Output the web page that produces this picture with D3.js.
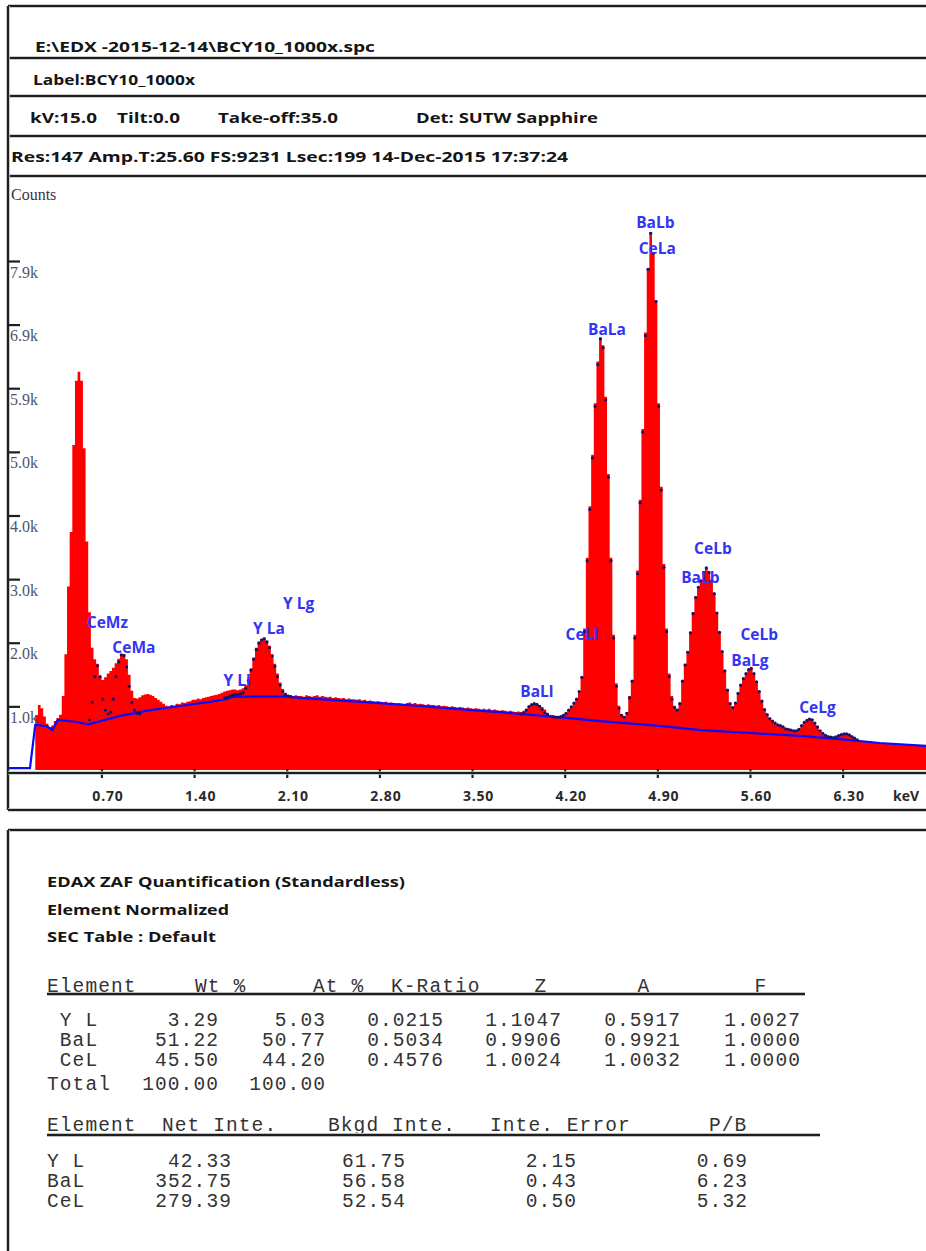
<!DOCTYPE html>
<html>
<head>
<meta charset="utf-8">
<script src="https://cdn.jsdelivr.net/npm/d3@7"></script>
<style>
  html, body { margin: 0; padding: 0; background: #fff; }
  svg { display: block; }
</style>
</head>
<body>
<svg id="page" width="926" height="1251"></svg>
<script>
// ---------------- EDX spectrum (counts per 0.02 keV channel, first channel at 0 keV) ----------------
const channelWidth = 0.02;
const counts = [
  0, 0, 0, 0, 0, 0, 0, 0, 0, 0,
  850, 1010, 960, 830, 720, 670, 690, 760, 810, 860,
  1150, 1800, 2850, 3700, 5050, 6050, 6190, 6050, 5000, 3550,
  2450, 1900, 1720, 1650, 1450, 1400, 1440, 1500, 1540, 1590,
  1660, 1730, 1780, 1800, 1720, 1480, 1230, 1120, 1110, 1130,
  1160, 1175, 1180, 1170, 1150, 1120, 1090, 1060, 1030, 1000,
  990, 1010, 1000, 1030, 1020, 1050, 1040, 1060, 1070, 1090,
  1090, 1110, 1100, 1120, 1130, 1140, 1150, 1160, 1170, 1180,
  1200, 1220, 1230, 1240, 1250, 1250, 1240, 1250, 1270, 1320,
  1420, 1580, 1750, 1900, 2000, 2040, 2060, 2010, 1930, 1800,
  1650, 1500, 1360, 1260, 1200, 1170, 1160, 1150, 1160, 1150,
  1150, 1140, 1160, 1150, 1140, 1150, 1160, 1140, 1150, 1140,
  1130, 1140, 1120, 1130, 1120, 1110, 1120, 1100, 1110, 1100,
  1100, 1090, 1100, 1080, 1090, 1070, 1080, 1070, 1060, 1070,
  1060, 1050, 1060, 1040, 1050, 1040, 1030, 1040, 1030, 1020,
  1040, 1050, 1030, 1040, 1020, 1030, 1020, 1010, 1020, 1010,
  1010, 1000, 1010, 990, 1000, 990, 980, 990, 980, 970,
  980, 970, 960, 970, 960, 950, 960, 950, 940, 950,
  940, 950, 930, 940, 930, 920, 930, 920, 910, 920,
  910, 900, 910, 900, 920, 950, 990, 1010, 1030, 1030,
  1010, 980, 940, 890, 860, 840, 830, 825, 830, 850,
  880, 930, 980, 1040, 1100, 1220, 1450, 2200, 3300, 4100,
  4900, 5700, 6350, 6720, 6600, 5800, 4600, 3300, 2100, 1350,
  1000, 870, 830, 900, 1150, 1400, 2100, 3100, 4200, 5300,
  6800, 7800, 8360, 8050, 7300, 5700, 4400, 3200, 2200, 1500,
  1150, 1000, 950, 1050, 1400, 1650, 1850, 2150, 2450, 2700,
  2850, 2950, 3080, 3150, 3080, 2950, 2750, 2450, 2150, 1850,
  1550, 1250, 1050, 980, 1050, 1200, 1330, 1430, 1500, 1560,
  1580, 1500, 1380, 1230, 1080, 950, 870, 810, 770, 740,
  710, 700, 680, 650, 640, 630, 620, 620, 640, 700,
  740, 770, 790, 790, 740, 680, 620, 575, 545, 525,
  515, 510, 520, 540, 555, 565, 565, 555, 530, 505,
  470, 460, 450, 445, 440, 445, 430, 435, 425, 420,
  420, 415, 410, 415, 405, 400, 405, 395, 400, 390,
  390, 395, 385, 390, 380, 385, 380
];

// Fitted background (keV, counts)
const backgroundEnergy = [0.00, 0.16, 0.20, 0.29, 0.33, 0.37, 0.50, 0.60, 0.84, 1.07, 1.29, 1.52, 1.64, 1.69, 1.80, 2.10,
  2.20, 2.43, 2.80, 3.11, 3.49, 3.71, 3.86, 4.13, 4.47, 4.92, 5.23, 5.60, 5.98, 6.28, 6.58, 6.93];
const backgroundCounts = [30, 30, 700, 680, 620, 780, 750, 710, 840, 930, 995, 1060, 1100, 1135, 1140, 1140,
  1120, 1090, 1040, 995, 930, 900, 870, 825, 760, 685, 620, 575, 530, 480, 420, 375];

// Peak fits (counts per channel, starting energy in keV)
const fitCeMStart = 0.60;
const fitCeM = [780, 1050, 1450, 1620, 1450, 1100, 930, 870, 900, 1100,
  1450, 1680, 1790, 1780, 1600, 1300, 1050, 930, 880, 870];
const fitYLStart = 1.62;
const fitYL = [1120, 1130, 1150, 1160, 1170, 1170, 1180, 1200, 1270, 1390,
  1550, 1720, 1870, 1970, 2020, 2040, 1990, 1900, 1770, 1610,
  1450, 1320, 1220, 1170, 1150, 1140];
const fitBaLlStart = 3.86;
const fitBaLl = [870, 885, 930, 985, 1015, 1030, 1020, 990, 940, 890, 860];
const fitLStart = 4.10;
const fitL = [
  830, 820, 820, 830, 850, 880, 930, 980, 1040, 1100,
  1220, 1440, 2150, 3250, 4050, 4850, 5650, 6300, 6700, 6560,
  5750, 4550, 3250, 2050, 1300, 960, 850, 820, 880, 1120,
  1380, 2050, 3050, 4150, 5250, 6750, 7780, 8340, 8030, 7280,
  5650, 4350, 3150, 2150, 1450, 1100, 970, 930, 1030, 1380,
  1630, 1830, 2130, 2430, 2680, 2840, 2940, 3070, 3140, 3070,
  2940, 2740, 2440, 2140, 1840, 1540, 1240, 1030, 970, 1040,
  1190, 1320, 1420, 1500, 1560, 1580, 1500, 1370, 1220, 1070,
  940, 860, 800, 760, 730, 700, 690, 670, 640, 630,
  620, 610, 610, 630, 690, 740, 770, 790, 780, 730,
  670, 610, 570, 540, 520, 510, 505, 515, 535, 550,
  560, 560, 545, 520, 495, 470
];

// Peak identification labels: text, label position (keV, counts)
const peakLabelText   = ["CeMz", "CeMa", "Y Ll", "Y La", "Y Lg", "BaLl", "CeLl", "BaLa", "BaLb", "CeLa", "CeLb", "BaLb", "CeLb", "BaLg", "CeLg"];
const peakLabelEnergy = [0.745, 0.945, 1.725, 1.965, 2.190, 3.990, 4.330, 4.520, 4.885, 4.900, 5.320, 5.225, 5.670, 5.600, 6.110];
const peakLabelCounts = [2300, 1910, 1400, 2200, 2590, 1230, 2110, 6860, 8520, 8110, 3450, 3000, 2110, 1710, 980];

// Axes
const fullScale = 9231;
const xTickValues = [0.70, 1.40, 2.10, 2.80, 3.50, 4.20, 4.90, 5.60, 6.30];
const yTickValues = [989, 1978, 2966, 3955, 4944, 5933, 6922, 7910];
const yTickLabels = ["1.0k", "2.0k", "3.0k", "4.0k", "5.0k", "5.9k", "6.9k", "7.9k"];

// Header block
const headerRow1 = ["E:\\EDX -2015-12-14\\BCY10_1000x.spc"];
const headerRow2 = ["Label:BCY10_1000x"];
const headerRow3 = ["kV:15.0", "Tilt:0.0", "Take-off:35.0", "Det: SUTW Sapphire"];
const headerRow4 = ["Res:147 Amp.T:25.60 FS:9231 Lsec:199 14-Dec-2015 17:37:24"];

// Quantification results
const quantTitle = ["EDAX ZAF Quantification (Standardless)", "Element Normalized", "SEC Table : Default"];
const quantHeader = ["Element", "Wt %", "At %", "K-Ratio", "Z", "A", "F"];
const quantRows = [
  [" Y L", "3.29", "5.03", "0.0215", "1.1047", "0.5917", "1.0027"],
  [" BaL", "51.22", "50.77", "0.5034", "0.9906", "0.9921", "1.0000"],
  [" CeL", "45.50", "44.20", "0.4576", "1.0024", "1.0032", "1.0000"],
  ["Total", "100.00", "100.00"]
];
const intensityHeader = ["Element", "Net Inte.", "Bkgd Inte.", "Inte. Error", "P/B"];
const intensityRows = [
  ["Y L", "42.33", "61.75", "2.15", "0.69"],
  ["BaL", "352.75", "56.58", "0.43", "6.23"],
  ["CeL", "279.39", "52.54", "0.50", "5.32"]
];

// ---------------- drawing ----------------
const svg = d3.select("#page");
const ink = "#1e1e1e";
const sans = "'Open Sans', 'Liberation Sans', sans-serif";
const serif = "'Liberation Serif', 'DejaVu Serif', serif";
const mono = "'Liberation Mono', 'DejaVu Sans Mono', monospace";

function rule(x1, y1, x2, y2, w) {
  svg.append("line").attr("x1", x1).attr("y1", y1).attr("x2", x2).attr("y2", y2)
    .attr("stroke", "#bdbdbd").attr("stroke-width", w + 1.6);
  svg.append("line").attr("x1", x1).attr("y1", y1).attr("x2", x2).attr("y2", y2)
    .attr("stroke", ink).attr("stroke-width", w);
}

// header frame
[6, 58, 96, 136, 176].forEach(yy => rule(8, yy, 926, yy, 2));
rule(8, 6, 8, 810, 2);

function headerText(str, x0, yBase, len) {
  svg.append("text").attr("x", x0).attr("y", yBase)
    .attr("font-family", sans).attr("font-weight", 700).attr("font-size", 14.5)
    .attr("fill", "#151515")
    .attr("textLength", len).attr("lengthAdjust", "spacingAndGlyphs")
    .text(str);
}
headerText(headerRow1[0], 35, 52, 340);
headerText(headerRow2[0], 33, 85, 162);
[[30, 67], [117, 63], [218, 120], [416, 182]].forEach((p, i) => headerText(headerRow3[i], p[0], 123, p[1]));
headerText(headerRow4[0], 11, 162, 557);

// ---------------- spectrum panel ----------------
const plotLeft = 8.8, plotRight = 926, plotTop = 176, plotBottom = 770;
const x = d3.scaleLinear().domain([0, 6.93]).range([plotLeft, plotRight]);
const y = d3.scaleLinear().domain([0, fullScale]).range([plotBottom, plotTop]);

const plot = svg.append("g");
plot.append("clipPath").attr("id", "plotClip")
  .append("rect").attr("x", 9).attr("y", plotTop).attr("width", plotRight - 9).attr("height", plotBottom - plotTop);

// y axis ticks and labels (labels hang under their tick marks)
svg.append("text").attr("x", 11).attr("y", 200)
  .attr("font-family", serif).attr("font-size", 16).attr("fill", "#3f3040")
  .text("Counts");

const yAxis = d3.axisRight(y).tickValues(yTickValues)
  .tickFormat((d, i) => yTickLabels[i]).tickSize(12).tickSizeOuter(0);
const yg = svg.append("g").attr("transform", "translate(8,0)").call(yAxis);
yg.select(".domain").remove();
yg.selectAll(".tick line").attr("stroke", ink).attr("stroke-width", 2.2);
yg.selectAll(".tick text")
  .attr("x", 2).attr("dy", 16).attr("text-anchor", "start")
  .attr("font-family", serif).attr("font-size", 16).attr("fill", "#4c5470");

// red spectrum area
const spectrum = counts.map((c, i) => ({ e: i * channelWidth, c }));
spectrum.push({ e: counts.length * channelWidth, c: counts[counts.length - 1] });
const area = d3.area().curve(d3.curveStepAfter)
  .x(d => x(d.e)).y0(y(0)).y1(d => y(d.c));
plot.append("path").datum(spectrum)
  .attr("clip-path", "url(#plotClip)")
  .attr("d", area).attr("fill", "#ff0000");

// background line
const bg = backgroundEnergy.map((e, i) => ({ e, c: backgroundCounts[i] }));
plot.append("path").datum(bg)
  .attr("d", d3.line().x(d => x(d.e)).y(d => y(d.c)))
  .attr("fill", "none").attr("stroke", "#0a0aff").attr("stroke-width", 2.2);

// peak fit dots
const fits = [[fitCeMStart, fitCeM], [fitYLStart, fitYL], [fitBaLlStart, fitBaLl], [fitLStart, fitL]];
fits.forEach(([start, vals]) => {
  plot.append("g").selectAll("circle")
    .data(vals.map((c, k) => ({ e: start + k * channelWidth + channelWidth / 2, c })))
    .join("circle")
    .attr("cx", d => x(d.e)).attr("cy", d => y(d.c)).attr("r", 1.6)
    .attr("fill", "#14146a");
});

// x axis
const xAxis = d3.axisBottom(x).tickValues(xTickValues).tickFormat(d3.format(".2f"))
  .tickSizeInner(5).tickSizeOuter(0);
const xg = svg.append("g").attr("transform", "translate(0,773)").call(xAxis);
xg.select(".domain").remove();
rule(8, 773, 926, 773, 2);
xg.selectAll(".tick line").attr("y1", -4).attr("y2", 5).attr("stroke", ink).attr("stroke-width", 2.2);
xg.selectAll(".tick text")
  .attr("y", 0).attr("dy", 28).attr("dx", 6)
  .attr("font-family", sans).attr("font-weight", 700).attr("font-size", 14)
  .attr("letter-spacing", 0.8)
  .attr("fill", "#2a2a2a");
svg.append("text").attr("x", 893).attr("y", 801)
  .attr("font-family", sans).attr("font-weight", 700).attr("font-size", 14)
  .attr("fill", "#2a2a2a").text("keV");
rule(8, 810, 926, 810, 2);

// peak labels
plot.append("g").selectAll("text")
  .data(peakLabelText.map((t, i) => ({ t, e: peakLabelEnergy[i], c: peakLabelCounts[i] })))
  .join("text")
  .attr("x", d => x(d.e)).attr("y", d => y(d.c))
  .attr("text-anchor", "middle").attr("dominant-baseline", "central")
  .attr("font-family", sans).attr("font-weight", 700).attr("font-size", 15.5)
  .attr("fill", "#3434f4")
  .text(d => d.t);

// ---------------- quantification panel ----------------
rule(8, 830, 926, 830, 2);
rule(8, 830, 8, 1251, 2);

[[887, 358], [915, 182], [942, 169]].forEach((p, i) => {
  svg.append("text").attr("x", 47).attr("y", p[0])
    .attr("font-family", sans).attr("font-weight", 700).attr("font-size", 15)
    .attr("fill", "#151515")
    .attr("textLength", p[1]).attr("lengthAdjust", "spacingAndGlyphs")
    .text(quantTitle[i]);
});

function monoText(str, xx, yy, anchor) {
  svg.append("text").attr("x", xx).attr("y", yy)
    .attr("text-anchor", anchor)
    .attr("font-family", mono).attr("font-size", 19.5).attr("letter-spacing", 1.1)
    .attr("fill", "#333333")
    .attr("xml:space", "preserve").style("white-space", "pre")
    .text(str);
}

// table 1
const quantHeaderPos = [[47, "start"], [195, "start"], [313, "start"], [391, "start"], [541, "middle"], [644, "middle"], [761, "middle"]];
quantHeader.forEach((h, i) => monoText(h, quantHeaderPos[i][0], 992, quantHeaderPos[i][1]));
rule(47, 994, 805, 994, 2.2);
const quantColRight = [null, 219, 326, 444, 562, 681, 801];
const quantRowY = [1026, 1046, 1066, 1090];
quantRows.forEach((row, r) => {
  row.forEach((cell, c) => {
    if (c === 0) monoText(cell, 47, quantRowY[r], "start");
    else monoText(cell, quantColRight[c], quantRowY[r], "end");
  });
});

// table 2
const intensityHeaderX = [47, 162, 328, 490, 709];
intensityHeader.forEach((h, i) => monoText(h, intensityHeaderX[i], 1131, "start"));
rule(47, 1135, 820, 1135, 2.2);
const intensityColRight = [null, 232, 406, 577, 748];
const intensityRowY = [1167, 1187, 1207];
intensityRows.forEach((row, r) => {
  row.forEach((cell, c) => {
    if (c === 0) monoText(cell, 47, intensityRowY[r], "start");
    else monoText(cell, intensityColRight[c], intensityRowY[r], "end");
  });
});
</script>
</body>
</html>
